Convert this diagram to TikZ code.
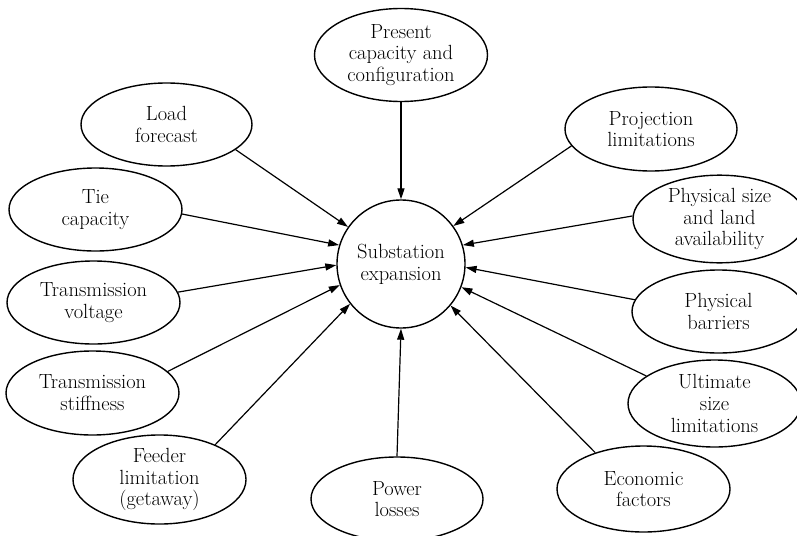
\documentclass[tikz,border=0pt]{standalone}
\usetikzlibrary{arrows.meta,shapes.geometric}
\begin{document}
\begin{tikzpicture}[x=1pt,y=-1pt,
  txt/.style={font=\fontsize{20.5}{21.8}\selectfont, align=center},
  oval/.style={txt, draw, line width=1.4pt, ellipse, inner sep=0pt,
    minimum width=173pt, minimum height=84pt},
  hub/.style={txt, draw, line width=1.4pt, circle, inner sep=0pt, minimum size=128pt},
  feed/.style={line width=1.2pt, -{Triangle[length=11pt,width=7pt]}}]
\clip (0,0) rectangle (797,535);
\node[hub] (sub) at (401,264) {Substation\\expansion};
\node[oval, minimum height=93pt] (pres) at (401,55) {Present\\capacity and\\configuration};
\node[oval, minimum width=171pt, minimum height=83pt] (load) at (166.5,124.5) {Load\\forecast};
\node[oval, minimum height=83pt] (tie) at (95.5,209.5) {Tie\\capacity};
\node[oval, minimum height=83pt] (tvol) at (93.5,302.5) {Transmission\\voltage};
\node[oval] (tstf) at (92.5,393) {Transmission\\stiffness};
\node[oval, minimum height=85pt] (feed) at (159.5,479.5) {Feeder\\limitation\\(getaway)};
\node[oval, minimum width=172pt] (pow) at (397,499) {Power\\losses};
\node[oval, minimum height=86pt] (econ) at (643.5,489) {Economic\\factors};
\node[oval, minimum height=87pt] (ult) at (714.5,403.5) {Ultimate\\size\\limitations};
\node[oval, minimum height=83pt] (bar) at (718.5,311.5) {Physical\\barriers};
\node[oval] (size) at (719.5,219) {Physical size\\and land\\availability};
\node[oval, minimum width=172pt] (proj) at (651,129) {Projection\\limitations};
\draw[feed] (pres.south) -- (sub.north);
\draw[feed] (load.-20) -- (sub.145.6);
\draw[feed] (tie.-3) -- (sub.163);
\draw[feed] (tvol.7.7) -- (sub.181.8);
\draw[feed] (tstf.16.5) -- (sub.199.3);
\draw[feed] (feed.32.8) -- (sub.218);
\draw[feed] (pow.north) -- (sub.south);
\draw[feed] (econ.143.4) -- (sub.-40);
\draw[feed] (ult.158.3) -- (sub.-21.8);
\draw[feed] (bar.172.3) -- (sub.-3.6);
\draw[feed] (size.178.7) -- (sub.17.3);
\draw[feed] (proj.192.8) -- (sub.36);
\end{tikzpicture}
\end{document}
